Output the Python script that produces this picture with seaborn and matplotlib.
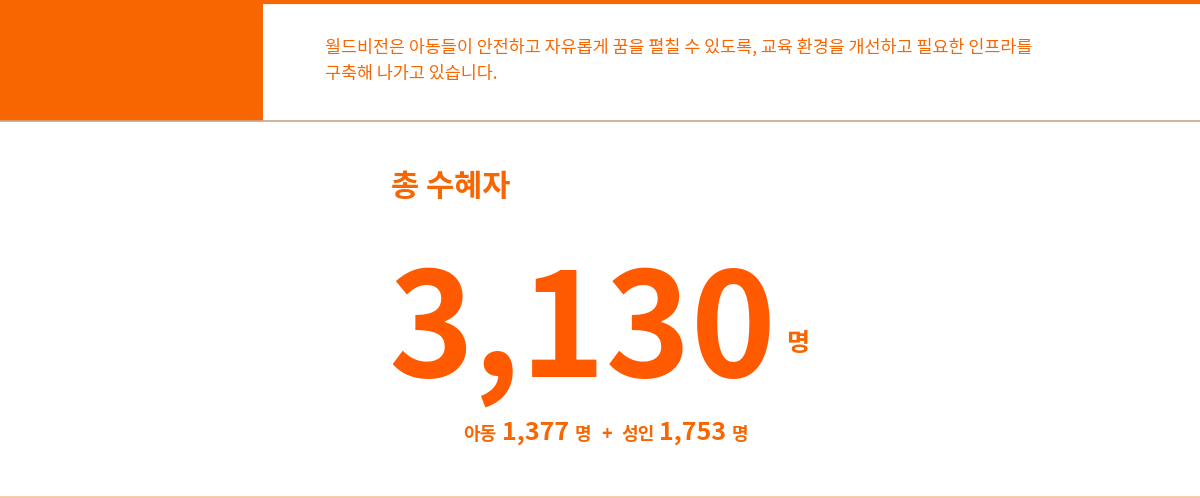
import matplotlib
matplotlib.use("Agg")
import matplotlib.pyplot as plt
import seaborn as sns
from matplotlib.patches import Rectangle

# data
children = 1377
adults = 1753
total = 3130
intro_lines = [
    "월드비전은 아동들이 안전하고 자유롭게 꿈을 펼칠 수 있도록, 교육 환경을 개선하고 필요한 인프라를",
    "구축해 나가고 있습니다.",
]
title = "총 수혜자"
unit = "명"

sns.set_style("white")
plt.rcParams["font.family"] = ["Noto Sans CJK KR", "DejaVu Sans"]

ORANGE = "#F76600"
NUM = "#FF5A00"

fig = plt.figure(figsize=(12, 4.98), dpi=100)
ax = fig.add_axes([0, 0, 1, 1])
ax.set_xlim(0, 1200)
ax.set_ylim(498, 0)
ax.axis("off")

# header
ax.add_patch(Rectangle((0, 0), 263, 121, color=ORANGE, lw=0))
ax.plot([0, 1200], [1.5, 1.5], color=ORANGE, lw=3)
ax.plot([0, 1200], [120.5, 120.5], color="#C9A58A", lw=1.2)
ax.plot([0, 1200], [496.5, 496.5], color="#F2C7A6", lw=2)
for i, line in enumerate(intro_lines):
    ax.text(325, 47 + i * 27, line, fontsize=12.5, color=ORANGE, va="center", ha="left")

# title and totals
ax.text(391, 187, title, fontsize=22, color=ORANGE, fontweight="bold", va="center", ha="left")
ax.text(388, 376, f"{total:,}", fontsize=104, color=NUM, fontweight="black",
        va="baseline", ha="left")
ax.text(786, 351, unit, fontsize=18, color=ORANGE, fontweight="bold", va="baseline", ha="left")

# breakdown line
y = 440
ax.text(463, y, "아동", fontsize=13, color=ORANGE, fontweight="bold", va="baseline")
ax.text(502, y, f"{children:,}", fontsize=18, color=ORANGE, fontweight="black", va="baseline")
ax.text(575, y, unit, fontsize=13, color=ORANGE, fontweight="bold", va="baseline")
ax.text(601, y, "+", fontsize=13, color=ORANGE, fontweight="bold", va="baseline")
ax.text(621, y, "성인", fontsize=13, color=ORANGE, fontweight="bold", va="baseline")
ax.text(659, y, f"{adults:,}", fontsize=18, color=ORANGE, fontweight="black", va="baseline")
ax.text(732, y, unit, fontsize=13, color=ORANGE, fontweight="bold", va="baseline")

fig.savefig("out.png", dpi=100)
